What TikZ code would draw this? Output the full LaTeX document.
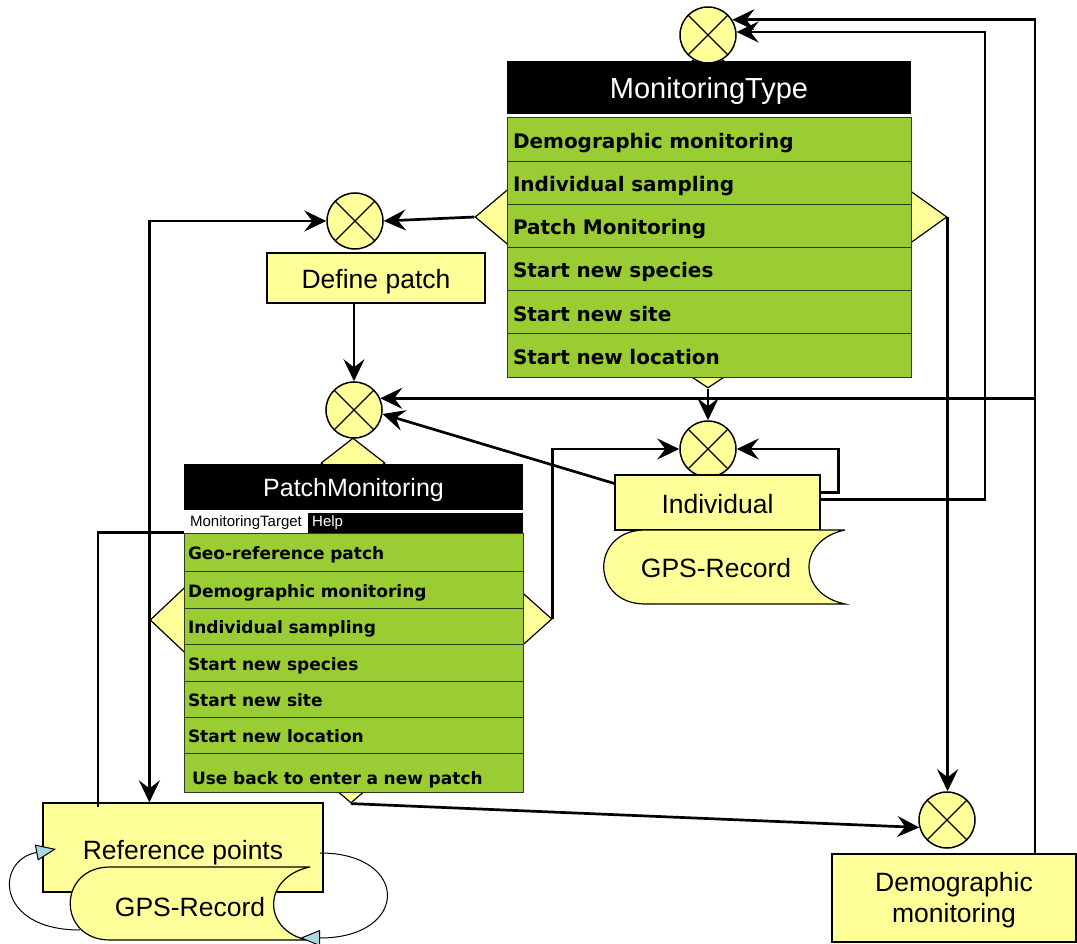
\documentclass[tikz,border=0pt]{standalone}
\usepackage{fontspec}
\setmainfont{Liberation Sans}
\newfontfamily\rowf{DejaVu Sans}
\usetikzlibrary{arrows.meta,shapes.geometric,calc}
\definecolor{yel}{RGB}{255,255,153}
\definecolor{grn}{RGB}{154,204,51}
\definecolor{lblue}{RGB}{168,216,226}
\definecolor{sepc}{RGB}{45,60,35}
\tikzset{
  lbox/.style={draw, line width=1.2pt, fill=yel, inner sep=0pt, align=center,
    text height=22pt, text depth=0pt, font=\fontsize{26.5}{30.5}\selectfont},
  lbox2/.style={draw, line width=1.2pt, fill=yel, inner sep=0pt,
    font=\fontsize{26.5}{30.5}\selectfont},
  xcirc/.style={circle, draw, line width=1.5pt, fill=yel, minimum size=56pt, inner sep=0pt,
    path picture={\draw[line width=1.2pt] (path picture bounding box.north west) -- (path picture bounding box.south east)
      (path picture bounding box.north east) -- (path picture bounding box.south west);}},
  dia/.style={diamond, draw, line width=1.2pt, fill=yel, inner sep=0pt},
  hdr/.style={rectangle, fill=black, text=white, inner sep=0pt},
  mtrow/.style={rectangle, fill=grn, draw=sepc, line width=1pt, minimum width=404pt, minimum height=43.2pt,
    text width=392pt, inner xsep=6pt, inner ysep=0pt, align=left, text height=17.6pt, text depth=0pt,
    font=\rowf\bfseries\fontsize{20}{24}\selectfont},
  pmrow/.style={rectangle, fill=grn, draw=sepc, line width=1pt, minimum width=339pt,
    text width=331pt, inner xsep=4pt, inner ysep=0pt, align=left, text height=15.4pt, text depth=0pt,
    font=\rowf\bfseries\fontsize{17}{20}\selectfont},
  conn/.style={line width=2.7pt},
  arr/.style={line width=2.7pt, -{Stealth[length=22pt,width=21pt,inset=8pt]}},
  lp/.style={line width=1pt, -{Triangle[length=20pt,width=16pt,fill=lblue]}},
}
\begin{document}
\begin{tikzpicture}[x=1pt,y=-1pt]
\useasboundingbox (0,0) rectangle (1077,944);

% ---------- diamonds behind the windows
\node[dia, minimum width=36pt, minimum height=20pt] (mtT) at (708,62) {};
\node[dia, minimum width=64pt, minimum height=54pt] (mtL) at (507,217) {};
\node[dia, minimum width=74pt, minimum height=53pt] (mtR) at (910,217) {};
\node[dia, minimum width=33pt, minimum height=22pt] (mtB) at (708,377) {};
\node[dia, minimum width=64pt, minimum height=50pt] (pmT) at (353,463) {};
\node[dia, minimum width=70pt, minimum height=66pt] (pmL) at (185,620) {};
\node[dia, minimum width=58pt, minimum height=52pt] (pmR) at (523,619) {};
\node[dia, minimum width=28pt, minimum height=24pt] (pmB) at (351,791) {};

% ---------- MonitoringType window
\node[hdr, minimum width=404pt, minimum height=53pt, text height=21.8pt, text depth=0pt,
  font=\fontsize{29}{32}\selectfont] (mthdr) at (709,87.5) {MonitoringType};
\node[mtrow] (mt1) at (709,139.6) {Demographic monitoring};
\node[mtrow] (mt2) at (709,182.8) {Individual sampling};
\node[mtrow] (mt3) at (709,225.9) {Patch Monitoring};
\node[mtrow] (mt4) at (709,269.1) {Start new species};
\node[mtrow] (mt5) at (709,312.3) {Start new site};
\node[mtrow] (mt6) at (709,355.4) {Start new location};

% ---------- PatchMonitoring window
\node[hdr, minimum width=339pt, minimum height=46pt, text height=18pt, text depth=0pt,
  font=\fontsize{25}{28}\selectfont] (pmhdr) at (353.5,487) {PatchMonitoring};
\node[hdr, minimum width=339pt, minimum height=20pt] (menu) at (353.5,523) {};
\node[rectangle, fill=white, minimum width=124pt, minimum height=20pt, inner sep=0pt,
  font=\fontsize{15}{17}\selectfont] (mtgt) at (246,523) {MonitoringTarget};
\node[anchor=west, text=white, inner sep=0pt, font=\fontsize{15}{17}\selectfont] (help) at (312,523) {Help};
\node[pmrow, minimum height=38pt] (pm1) at (353.5,552) {Geo-reference patch};
\node[pmrow, minimum height=37pt] (pm2) at (353.5,589.5) {Demographic monitoring};
\node[pmrow, minimum height=36pt] (pm3) at (353.5,626) {Individual sampling};
\node[pmrow, minimum height=37pt] (pm4) at (353.5,662.5) {Start new species};
\node[pmrow, minimum height=36pt] (pm5) at (353.5,699) {Start new site};
\node[pmrow, minimum height=36pt] (pm6) at (353.5,735) {Start new location};
\node[pmrow, minimum height=39pt, text width=323pt, inner xsep=8pt, text height=23.4pt] (pm7) at (353.5,772.5) {Use back to enter a new patch};

% ---------- merge circles
\node[xcirc] (c0) at (708,35) {};
\node[xcirc] (c1) at (355,221) {};
\node[xcirc] (c2) at (354,410) {};
\node[xcirc] (c3) at (708,449) {};
\node[xcirc] (c4) at (947,820) {};

% ---------- labelled boxes
\node[lbox, minimum width=218pt, minimum height=50pt] (dp) at (376,278) {Define patch};
\node[lbox, minimum width=205pt, minimum height=55pt] (ind) at (717.5,502.5) {Individual};
\node[lbox, minimum width=280pt, minimum height=89pt, text height=24pt] (ref) at (183,847.5) {Reference points};
\node[lbox2, minimum width=244pt, minimum height=88pt, text height=39.5pt, text depth=21.5pt] (dm) at (954,898)
  {\begin{tabular}{@{}c@{}}Demographic\\monitoring\end{tabular}};

% ---------- GPS-Record stored-data shapes
\filldraw[fill=yel, line width=1.2pt] (845,530) -- (645,530) .. controls (590,530) and (590,604) .. (645,604)
  -- (845,604) .. controls (797,594) and (797,540) .. (845,530);
\node[inner sep=0pt, font=\fontsize{26.5}{30.5}\selectfont] (gps1) at (716,568) {GPS-Record};
\filldraw[fill=yel, line width=1.2pt] (310,867) -- (110,867) .. controls (57,867) and (57,940) .. (110,940)
  -- (307,940) .. controls (262,930) and (262,877) .. (310,867);
\node[inner sep=0pt, font=\fontsize{26.5}{30.5}\selectfont] (gps2) at (190,907) {GPS-Record};

% ---------- helper coordinates
\coordinate (xR) at (1035,0);
\coordinate (xM) at (985,0);
\coordinate (g2l) at (80,930);
\coordinate (rfl) at (56,849);
\coordinate (rfr) at (320,853);
\coordinate (g2r) at (300,938);

% ---------- connectors
\draw[arr] (mtL.west) -- (c1.east);
\draw[arr] (pmL.west) |- (c1.west);
\draw[arr] (pmL.west) -- (pmL.west |- ref.north);
\draw[arr] (dp.south -| c2.north) -- (c2.north);
\draw[arr] (dm.north -| xR) |- (c0.32);
\draw[arr] (xR |- c2.24) -- (c2.24);
\draw[arr] ([yshift=10pt]ind.east) -- ++(18,0) |- (c3.east);
\draw[arr] ([yshift=3pt]ind.east) -| (xM |- c0.6) -- (c0.6);
\draw[arr] (mtB.south) -- (c3.north);
\draw[arr] (pmR.east) |- (c3.west);
\draw[arr] ([yshift=19pt]ind.west) -- (c2.-8);
\draw[arr] (mtR.east) -- (mtR.east |- c4.north);
\draw[arr] (pmB.south) -- (c4.195);
\draw[conn] ([xshift=-85pt,yshift=-5pt]ref.north) |- (pm1.north west);

% ---------- self loops on Reference points
\draw[lp] (g2l) .. controls (-5,930) and (-5,860) .. (rfl);
\draw[lp] (rfr) .. controls (410,853) and (410,938) .. (g2r);
\end{tikzpicture}
\end{document}
